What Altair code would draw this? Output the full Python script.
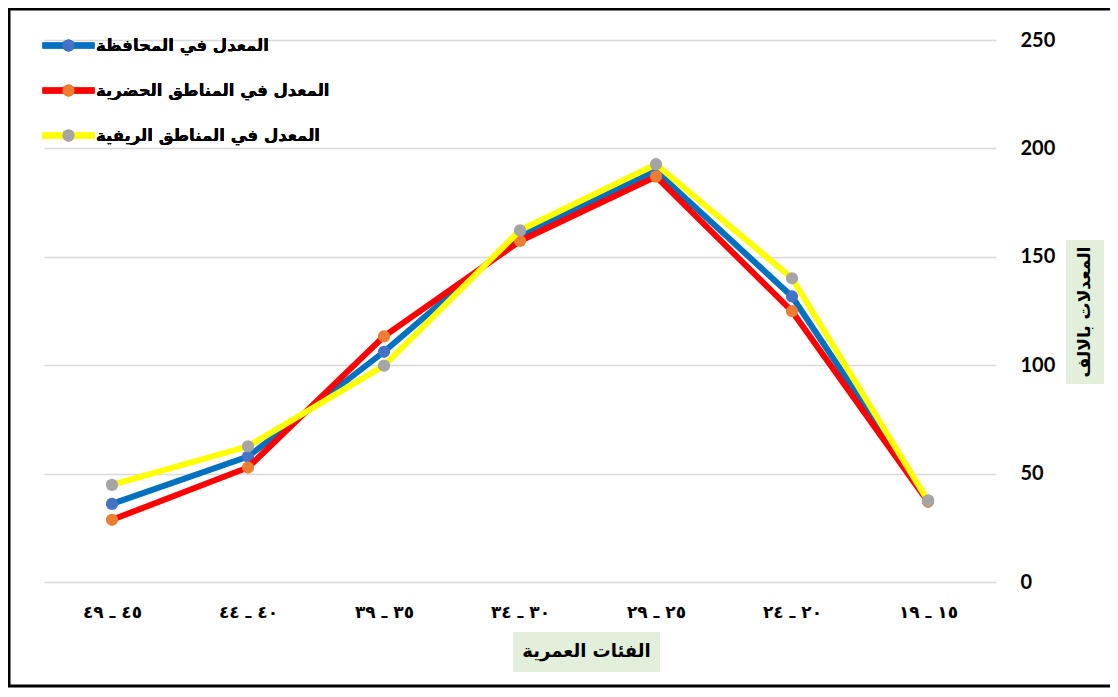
import altair as alt
import pandas as pd

# Age groups (right-to-left order in original: 15-19 on the right)
categories = ["١٥ ـ ١٩", "٢٠ ـ ٢٤", "٢٥ ـ ٢٩", "٣٠ ـ ٣٤", "٣٥ ـ ٣٩", "٤٠ ـ ٤٤", "٤٥ ـ ٤٩"]
series_names = ["المعدل في المحافظة", "المعدل في المناطق الحضرية", "المعدل في المناطق الريفية"]
series_keys = ["g", "u", "r"]
governorate = [37.5, 131.7, 189.5, 160.0, 106.2, 57.8, 36.0]
urban = [37.0, 124.9, 187.0, 157.3, 113.3, 52.8, 28.7]
rural = [37.5, 140.1, 192.7, 162.2, 99.8, 62.6, 44.8]
line_colors = ["#0070C0", "#FF0000", "#FFFF00"]
marker_colors = ["#4472C4", "#ED7D31", "#A5A5A5"]
y_ticks = [0, 50, 100, 150, 200, 250]
x_title = "الفئات العمرية"
y_title = "المعدلات بالالف"

rows = []
for name, key, vals in zip(series_names, series_keys, [governorate, urban, rural]):
    for c, v in zip(categories, vals):
        rows.append({"category": c, "series": name, "key": key, "value": v})
df = pd.DataFrame(rows)

W, H = 952, 542
AR_FONT = "DejaVu Sans"

x_enc = alt.X(
    "category:N",
    sort=list(reversed(categories)),
    scale=alt.Scale(type="point", padding=0.5),
    axis=alt.Axis(
        title=None, labelAngle=0, ticks=False, domain=False, grid=False,
        labelFont=AR_FONT, labelFontSize=17, labelFontWeight="bold",
        labelColor="#000000", labelPadding=22,
    ),
)
y_enc = alt.Y(
    "value:Q",
    scale=alt.Scale(domain=[0, 250]),
    axis=alt.Axis(
        orient="right", title=None, values=y_ticks, ticks=False, domain=False,
        grid=True, gridColor="#D9D9D9", gridWidth=1.5,
        labelFont="Lato", labelFontSize=20, labelFontWeight="bold",
        labelColor="#000000", labelPadding=24, labelAlign="left",
    ),
)

LEG_X, LEG_Y = 15, -4
SYM_SIZE = 150

color_enc = alt.Color(
    "series:N",
    scale=alt.Scale(domain=series_names, range=line_colors),
    legend=alt.Legend(
        title=None, orient="none", legendX=LEG_X, legendY=LEG_Y, padding=0,
        symbolType="M-4.25,0H4.25", symbolSize=SYM_SIZE, symbolStrokeWidth=6,
        labelFont=AR_FONT, labelFontSize=16.5, labelFontWeight="bold",
        labelColor="#000000", labelOffset=18, rowPadding=20,
        labelLimit=400,
    ),
)
fill_enc = alt.Fill(
    "key:N",
    scale=alt.Scale(domain=series_keys, range=marker_colors),
    legend=alt.Legend(
        title=None, orient="none", legendX=LEG_X, legendY=LEG_Y, padding=0,
        symbolType="circle", symbolSize=SYM_SIZE, symbolStrokeWidth=6,
        symbolStrokeColor="transparent",
        labelExpr="''", labelFontSize=16.5, labelOffset=18, rowPadding=8,
    ),
)

base = alt.Chart(df)
layers = []
for name in series_names:
    layers.append(
        base.transform_filter(alt.datum.series == name)
        .mark_line(strokeWidth=6)
        .encode(x=x_enc, y=y_enc, color=color_enc)
    )
    layers.append(
        base.transform_filter(alt.datum.series == name)
        .mark_circle(size=150, opacity=1)
        .encode(x=x_enc, y=y_enc, fill=fill_enc)
    )

one = alt.Chart(pd.DataFrame({"t": [0]}))

xt_box = one.mark_rect(fill="#E2EFDA").encode(
    x=alt.value(469), x2=alt.value(616), y=alt.value(592), y2=alt.value(632)
)
xt_text = one.mark_text(
    text=x_title, font=AR_FONT, fontSize=18, fontWeight="bold", color="#000000",
    align="center", baseline="middle",
).encode(x=alt.value(542.5), y=alt.value(612))

yt_box = one.mark_rect(fill="#E2EFDA").encode(
    x=alt.value(1022), x2=alt.value(1060), y=alt.value(200), y2=alt.value(344)
)
yt_text = one.mark_text(
    text=y_title, font=AR_FONT, fontSize=17, fontWeight="bold", color="#000000",
    align="center", baseline="middle", angle=270,
).encode(x=alt.value(1041), y=alt.value(272))

frame = one.mark_rect(fillOpacity=0, stroke="#000000", strokeWidth=3).encode(
    x=alt.value(-35), x2=alt.value(1100), y=alt.value(-31), y2=alt.value(646)
)

chart = (
    alt.layer(*layers, xt_box, xt_text, yt_box, yt_text, frame)
    .resolve_legend(color="independent", fill="independent")
    .properties(
        width=W, height=H,
        autosize="none",
        padding={"left": 36, "top": 32, "right": 114, "bottom": 106},
        background="#FFFFFF",
    )
    .configure_view(strokeWidth=0)
)

chart.save("out.html", embed_options={"renderer": "svg", "actions": False})
